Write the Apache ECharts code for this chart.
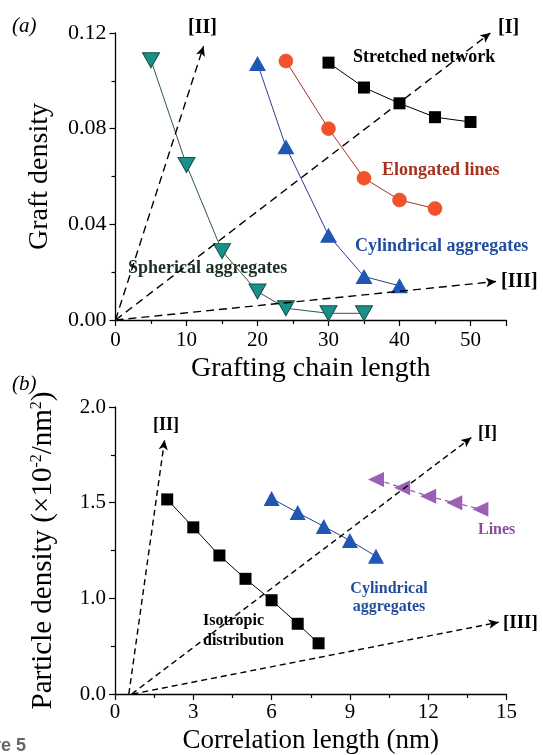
<!DOCTYPE html>
<html><head><meta charset="utf-8">
<script src="https://cdn.jsdelivr.net/npm/echarts@6/dist/echarts.min.js"></script>
<style>html,body{margin:0;padding:0;background:#fff}#c{width:543px;height:755px}</style>
</head><body><div id="c"></div>
<script>
// ---- Panel (a) data ----
const aNetworkX = [30, 35, 40, 45, 50];
const aNetworkY = [0.1076, 0.0972, 0.0906, 0.0848, 0.0828];
const aLinesX = [24, 30, 35, 40, 45];
const aLinesY = [0.1083, 0.0800, 0.0593, 0.0502, 0.0466];
const aCylX = [20, 24, 30, 35, 40];
const aCylY = [0.1072, 0.0724, 0.0354, 0.0182, 0.0143];
const aSphX = [5, 10, 15, 20, 24, 30, 35];
const aSphY = [0.1086, 0.0648, 0.0288, 0.0119, 0.0049, 0.0028, 0.0028];
const aArrowI = [[0, 0], [52.8, 0.1200]];
const aArrowII = [[0, 0], [12.4, 0.1145]];
const aArrowIII = [[0, 0], [53.6, 0.0161]];
const aXTickValues = [0, 10, 20, 30, 40, 50];
const aYTickValues = [0, 0.04, 0.08, 0.12];
const aYTickLabels = ['0.00', '0.04', '0.08', '0.12'];

// ---- Panel (b) data ----
const bIsoX = [2, 3, 4, 5, 6, 7, 7.8];
const bIsoY = [1.517, 1.371, 1.224, 1.102, 0.990, 0.867, 0.765];
const bCylX = [6, 7, 8, 9, 10];
const bCylY = [1.522, 1.448, 1.376, 1.302, 1.220];
const bLinesX = [10, 11, 12, 13, 14];
const bLinesY = [1.621, 1.578, 1.534, 1.500, 1.466];
const bArrowI = [[0.64, 0.5], [13.65, 1.84]];
const bArrowII = [[0.53, 0.5], [1.9, 1.828]];
const bArrowIII = [[0.67, 0.5], [14.7, 0.875]];
const bXTickValues = [0, 3, 6, 9, 12, 15];
const bYTickValues = [0.5, 1.0, 1.5, 2.0];
const bYTickLabels = ['0.0', '1.0', '1.5', '2.0'];

const zip = (xs, ys) => xs.map((x, i) => [x, ys[i]]);
const SERIF = '"Liberation Serif", "DejaVu Serif", serif';

function arrowMark(list, dash) {
  return {
    silent: true, symbol: ['none', 'arrow'], symbolSize: [7, 10],
    label: { show: false },
    lineStyle: { color: '#000', width: 1.4, type: dash, opacity: 1 },
    emphasis: { disabled: true },
    data: list.map(a => [{ coord: a[0] }, { coord: a[1] }])
  };
}

function valueAxisBase(grid) {
  return {
    gridIndex: grid, type: 'value',
    axisLine: { show: true, onZero: false, lineStyle: { color: '#000', width: 1.3 } },
    axisTick: { show: true, inside: false, length: 6, lineStyle: { color: '#000', width: 1.2 } },
    minorTick: { show: true, splitNumber: 2, length: 4, lineStyle: { color: '#000', width: 1.2 } },
    splitLine: { show: false },
    axisLabel: { color: '#000', fontFamily: SERIF, fontSize: 21 },
    nameTextStyle: { color: '#000', fontFamily: SERIF, fontSize: 27 }
  };
}

const chart = echarts.init(document.getElementById('c'), null, { renderer: 'canvas' });

const xA = Object.assign(valueAxisBase(0), {
  min: 0, max: 55, interval: 10,
  name: 'Grafting chain length', nameLocation: 'middle', nameGap: 35
});
xA.axisLabel = Object.assign({}, xA.axisLabel, { margin: 10,
  formatter: v => aXTickValues.includes(v) ? String(v) : '' });
xA.nameTextStyle = Object.assign({}, xA.nameTextStyle, { fontSize: 28 });

const yA = Object.assign(valueAxisBase(0), {
  min: 0, max: 0.12, interval: 0.04,
  name: 'Graft density', nameLocation: 'middle', nameGap: 62
});
yA.axisLabel = Object.assign({}, yA.axisLabel, { margin: 9, fontSize: 22,
  formatter: v => { const i = aYTickValues.findIndex(t => Math.abs(t - v) < 1e-9); return i >= 0 ? aYTickLabels[i] : ''; } });
yA.nameTextStyle = Object.assign({}, yA.nameTextStyle, { fontSize: 28 });

const xB = Object.assign(valueAxisBase(1), {
  min: 0, max: 15, interval: 3,
  name: 'Correlation length (nm)', nameLocation: 'middle', nameGap: 33
});
xB.axisLabel = Object.assign({}, xB.axisLabel, { margin: 8,
  formatter: v => bXTickValues.includes(v) ? String(v) : '' });
xB.nameTextStyle = Object.assign({}, xB.nameTextStyle, { fontSize: 27 });

const yB = Object.assign(valueAxisBase(1), {
  min: 0.5, max: 2.0, interval: 0.5,
  name: 'Particle density (×10{sup|-2}/nm{sup|2})', nameLocation: 'middle', nameGap: 57
});
yB.axisLabel = Object.assign({}, yB.axisLabel, { margin: 9,
  formatter: v => { const i = bYTickValues.findIndex(t => Math.abs(t - v) < 1e-9); return i >= 0 ? bYTickLabels[i] : ''; } });
yB.nameTextStyle = {
  color: '#000', fontFamily: SERIF, fontSize: 29,
  rich: { sup: { fontFamily: SERIF, fontSize: 16, color: '#000', verticalAlign: 'top', padding: [0, 0, 12, 0] } }
};

const lbl = (text, x, y, fill, size, extra) => Object.assign({
  type: 'text', x: x, y: y, silent: true,
  style: { text: text, fill: fill, font: 'bold ' + size + 'px ' + SERIF, align: 'left', verticalAlign: 'middle' }
}, extra || {});

const option = {
  animation: false,
  backgroundColor: '#fff',
  grid: [
    { left: 115.5, top: 33, width: 390.5, height: 287, containLabel: false },
    { left: 115, top: 407, width: 391.5, height: 288, containLabel: false }
  ],
  xAxis: [xA, xB],
  yAxis: [yA, yB],
  series: [
    { name: 'Spherical aggregates', type: 'line', xAxisIndex: 0, yAxisIndex: 0,
      data: zip(aSphX, aSphY), symbol: 'triangle', symbolRotate: 180, symbolSize: [17, 15],
      itemStyle: { color: '#17918a', borderColor: '#1d4d48', borderWidth: 1 },
      lineStyle: { color: '#2c5a3e', width: 1 }, z: 3,
      markLine: arrowMark([aArrowI, aArrowII, aArrowIII], [8, 5]) },
    { name: 'Cylindrical aggregates', type: 'line', xAxisIndex: 0, yAxisIndex: 0,
      data: zip(aCylX, aCylY), symbol: 'triangle', symbolSize: [17, 15],
      itemStyle: { color: '#1f57b3', borderColor: '#1f57b3', borderWidth: 0 },
      lineStyle: { color: '#2b3e8e', width: 1 }, z: 3 },
    { name: 'Elongated lines', type: 'line', xAxisIndex: 0, yAxisIndex: 0,
      data: zip(aLinesX, aLinesY), symbol: 'circle', symbolSize: 14,
      itemStyle: { color: '#f2512b', borderColor: '#d84020', borderWidth: 0.5 },
      lineStyle: { color: '#a63222', width: 1 }, z: 3 },
    { name: 'Stretched network', type: 'line', xAxisIndex: 0, yAxisIndex: 0,
      data: zip(aNetworkX, aNetworkY), symbol: 'rect', symbolSize: 12,
      itemStyle: { color: '#000' },
      lineStyle: { color: '#000', width: 1 }, z: 3 },
    { name: 'Isotropic distribution', type: 'line', xAxisIndex: 1, yAxisIndex: 1,
      data: zip(bIsoX, bIsoY), symbol: 'rect', symbolSize: 12,
      itemStyle: { color: '#000' },
      lineStyle: { color: '#000', width: 1 }, z: 3,
      markLine: arrowMark([bArrowI, bArrowII, bArrowIII], [6, 4]) },
    { name: 'Cylindrical aggregates (b)', type: 'line', xAxisIndex: 1, yAxisIndex: 1,
      data: zip(bCylX, bCylY), symbol: 'triangle', symbolSize: [16, 15],
      itemStyle: { color: '#1f57b3' },
      lineStyle: { color: '#2b3e8e', width: 1 }, z: 3 },
    { name: 'Lines', type: 'line', xAxisIndex: 1, yAxisIndex: 1,
      data: zip(bLinesX, bLinesY), symbol: 'triangle', symbolRotate: 90, symbolSize: [15, 16],
      itemStyle: { color: '#9b5fb3' },
      lineStyle: { color: '#9b5fb3', width: 1.3, type: [5, 4] }, z: 3 }
  ],
  graphic: [
    { type: 'text', x: 12, y: 26, silent: true, style: { text: '(a)', fill: '#000', font: 'italic 21px ' + SERIF, align: 'left', verticalAlign: 'middle' } },
    { type: 'text', x: 12, y: 384, silent: true, style: { text: '(b)', fill: '#000', font: 'italic 21px ' + SERIF, align: 'left', verticalAlign: 'middle' } },
    lbl('[II]', 188, 28, '#000', 20),
    lbl('[I]', 498, 28, '#000', 20),
    lbl('[III]', 501, 282, '#000', 20),
    lbl('Stretched network', 353, 57, '#000', 18),
    lbl('Elongated lines', 382, 170, '#a8321f', 18),
    lbl('Cylindrical aggregates', 355, 246, '#234e9e', 18),
    lbl('Spherical aggregates', 128, 268, '#1c2e22', 18),
    lbl('[II]', 153, 425, '#000', 18),
    lbl('[I]', 478, 433, '#000', 18),
    lbl('[III]', 503, 623, '#000', 19),
    lbl('Lines', 478, 530, '#8c4a9f', 16),
    { type: 'text', x: 389, y: 598, silent: true, style: { text: 'Cylindrical\naggregates', fill: '#234e9e', font: 'bold 16px ' + SERIF, align: 'center', verticalAlign: 'middle', lineHeight: 18 } },
    { type: 'text', x: 203, y: 631, silent: true, style: { text: 'Isotropic\ndistribution', fill: '#000', font: 'bold 16px ' + SERIF, align: 'left', verticalAlign: 'middle', lineHeight: 20 } },
    { type: 'text', x: 26, y: 746, silent: true, style: { text: 'Figure 5', fill: '#666', font: 'bold 18px "Liberation Sans", Arial, sans-serif', align: 'right', verticalAlign: 'middle' } }
  ]
};
chart.setOption(option);
</script>
</body></html>
